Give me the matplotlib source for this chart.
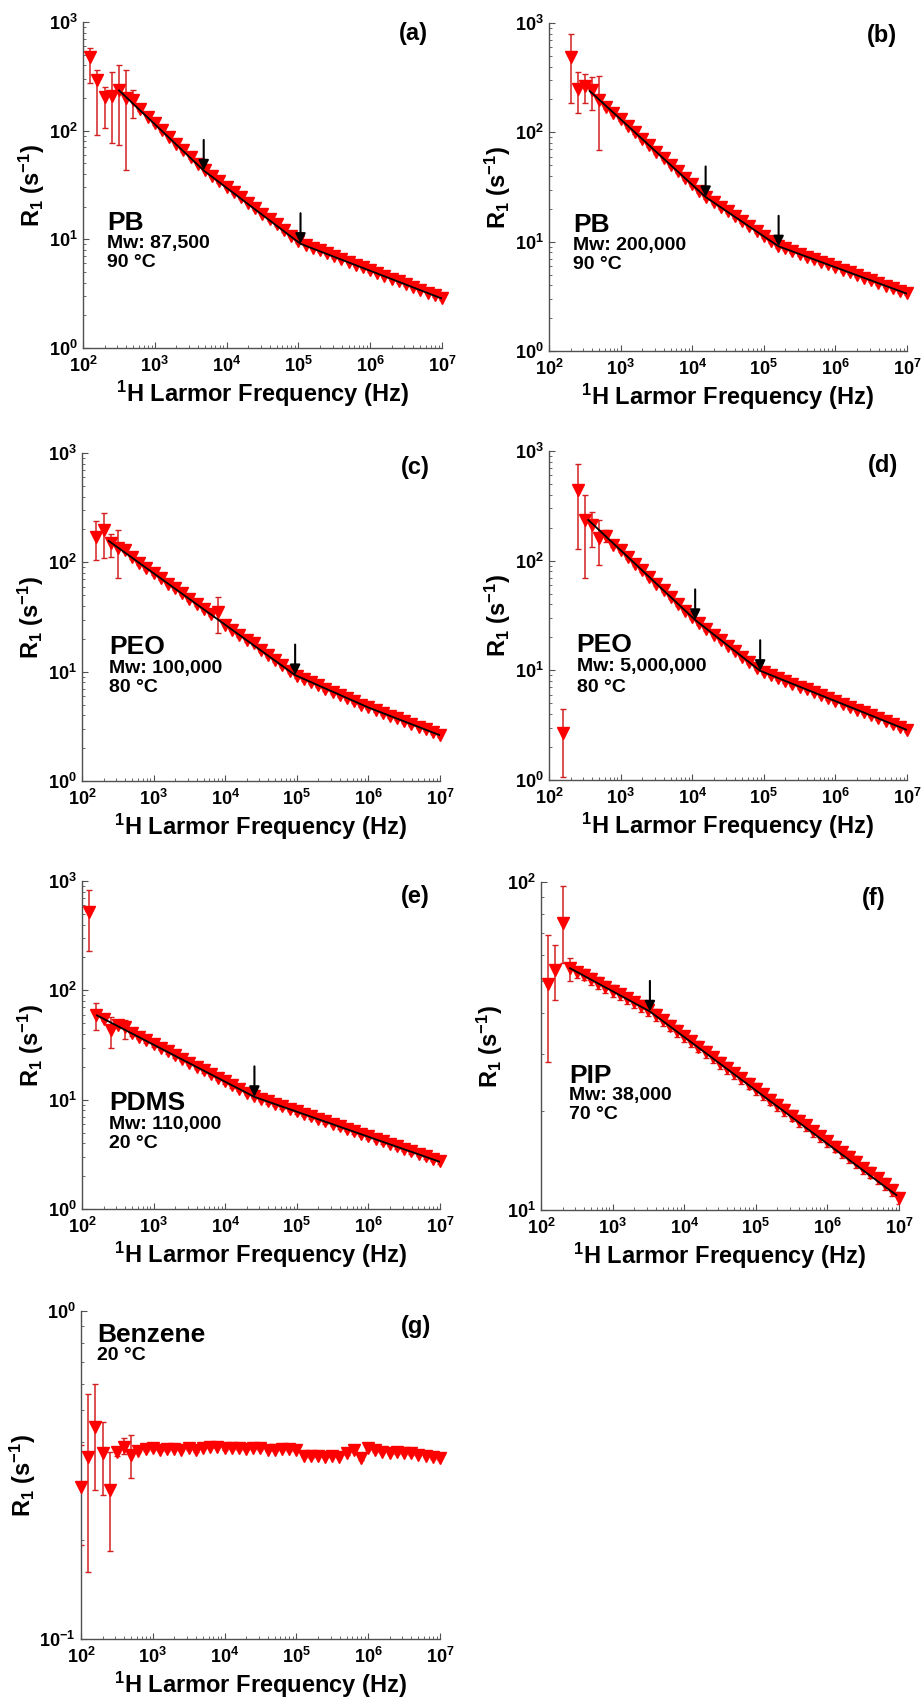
import numpy as np
import matplotlib
matplotlib.use('Agg')
import matplotlib.pyplot as plt
from matplotlib.ticker import NullFormatter

plt.rcParams['font.family'] = ['Liberation Sans', 'DejaVu Sans']
plt.rcParams['font.weight'] = 'bold'
plt.rcParams['mathtext.fontset'] = 'custom'
plt.rcParams['mathtext.rm'] = 'Liberation Sans:bold'
plt.rcParams['mathtext.bf'] = 'Liberation Sans:bold'
plt.rcParams['mathtext.it'] = 'Liberation Sans:bold:italic'

# common frequency grid (Hz), 10 points per decade
FREQ = [100, 126, 158, 200, 251, 316, 398, 501, 631, 794,
        1.0e3, 1.26e3, 1.58e3, 2.0e3, 2.51e3, 3.16e3, 3.98e3, 5.01e3, 6.31e3, 7.94e3,
        1.0e4, 1.26e4, 1.58e4, 2.0e4, 2.51e4, 3.16e4, 3.98e4, 5.01e4, 6.31e4, 7.94e4,
        1.0e5, 1.26e5, 1.58e5, 2.0e5, 2.51e5, 3.16e5, 3.98e5, 5.01e5, 6.31e5, 7.94e5,
        1.0e6, 1.26e6, 1.58e6, 2.0e6, 2.51e6, 3.16e6, 3.98e6, 5.01e6, 6.31e6, 7.94e6,
        1.0e7]

xtick_vals = [1e2, 1e3, 1e4, 1e5, 1e6, 1e7]
xtick_labels = [r'$10^{2}$', r'$10^{3}$', r'$10^{4}$', r'$10^{5}$', r'$10^{6}$', r'$10^{7}$']

# (a) PB 87,500
start_a = 1
r1_a = [477, 293, 206, 208, 237, 199, 192, 157, 134, 117, 101, 88, 76, 66, 57, 49.5, 43.5,
        38.3, 34.2, 30.5, 27.2, 24.3, 21.6, 19.3, 17.1, 15.3, 13.7, 12.1, 10.8, 9.6, 8.9,
        8.4, 7.9, 7.45, 7.0, 6.6, 6.25, 5.85, 5.55, 5.2, 4.9, 4.62, 4.36, 4.1, 3.87, 3.65,
        3.44, 3.24, 3.05, 2.88]
err_idx_a = [0, 1, 2, 3, 4, 5, 6]
err_lo_a = [202, 202, 101, 131, 163, 156, 61]
err_hi_a = [96, 68, 48, 141, 165, 162, 45]
fit_f_a = [317, 4800, 107000, 1e7]
fit_r_a = [235, 43, 9.1, 2.85]
arrow_f_a = [4800, 107000]
arrow_r_a = [43, 9.1]

# (b) PB 200,000
start_b = 3
r1_b = [489, 251, 263, 245, 196, 172, 150, 132, 115, 101, 87, 76, 66.5, 58, 50.5, 44, 38.5,
        33.5, 29.3, 25.6, 23.1, 20.9, 18.9, 17.0, 15.3, 13.8, 12.5, 11.3, 10.2, 9.2, 8.7,
        8.2, 7.75, 7.3, 6.95, 6.55, 6.2, 5.88, 5.55, 5.25, 4.97, 4.7, 4.45, 4.2, 3.97, 3.76,
        3.56, 3.36]
err_idx_b = [0, 1, 2, 3, 4]
err_lo_b = [304, 101, 78, 84, 127]
err_hi_b = [298, 106, 76, 76, 134]
fit_f_b = [370, 15400, 161000, 1e7]
fit_r_b = [239, 25.6, 9.06, 3.34]
arrow_f_b = [15400, 161000]
arrow_r_b = [25.6, 9.06]

# (c) PEO 100,000
start_c = 2
r1_c = [169, 199, 150, 135, 130, 111, 99, 89, 80, 72, 64, 58, 52, 46.5, 41.8, 37.5, 33.6,
        35.0, 27.0, 24.3, 21.8, 19.5, 18.2, 15.8, 14.1, 12.7, 11.4, 10.2, 9.2, 8.6, 8.05,
        7.5, 7.0, 6.55, 6.12, 5.72, 5.34, 5.0, 4.72, 4.45, 4.2, 3.96, 3.74, 3.53, 3.34,
        3.15, 2.97, 2.79, 2.63]
err_idx_c = [0, 1, 2, 3, 17]
err_lo_c = [63, 90, 37, 63, 12.5]
err_hi_c = [71, 83, 31, 64, 13]
fit_f_c = [236, 94800, 1e6, 1e7]
fit_r_c = [157, 9.3, 4.7, 2.62]
arrow_f_c = [94800]
arrow_r_c = [9.3]

# (d) PEO 5,000,000
start_d = 2
r1_d = [2.67, np.nan, 441, 235, 211, 162, 169, 140, 124, 108, 94, 82, 71, 61.5, 53.5, 46.5,
        40.4, 35.1, 30.5, 26.8, 23.9, 21.2, 18.8, 16.7, 14.9, 13.2, 11.8, 10.5, 9.6, 9.0,
        8.5, 8.0, 7.55, 7.1, 6.7, 6.3, 5.93, 5.58, 5.26, 4.95, 4.66, 4.39, 4.13, 3.89,
        3.67, 3.45, 3.25, 3.06, 2.88]
err_idx_d = [0, 2, 3, 4, 5, 6]
err_lo_d = [1.6, 313, 166, 77, 71, 20]
err_hi_d = [1.76, 314, 162, 69, 73, 20]
fit_f_d = [354, 11000, 89000, 1e7]
fit_r_d = [235, 28.8, 9.9, 2.86]
arrow_f_d = [11000, 89000]
arrow_r_d = [28.8, 9.9]

# (e) PDMS 110,000
start_e = 1
r1_e = [521, 59, 55, 43, 48, 46, 40.5, 37.5, 34.8, 32.2, 29.8, 27.6, 25.5, 23.6, 21.8, 20.1,
        18.6, 17.2, 15.9, 14.7, 13.6, 12.6, 11.6, 10.8, 10.2, 9.7, 9.2, 8.7, 8.25, 7.85,
        7.45, 7.05, 6.7, 6.35, 6.03, 5.72, 5.43, 5.15, 4.88, 4.63, 4.39, 4.17, 3.96, 3.76,
        3.57, 3.38, 3.2, 3.04, 2.88, 2.72]
err_idx_e = [0, 1, 3, 5]
err_lo_e = [292, 16, 13, 10]
err_hi_e = [301, 17, 14, 8]
fit_f_e = [162, 25600, 1e7]
fit_r_e = [59, 10.6, 2.7]
arrow_f_e = [25600]
arrow_r_e = [10.6]

# (f) PIP 38,000
start_f = 1
r1_f = [49, 53.8, 75, 54.6, 53.0, 52.2, 50.6, 49.2, 47.9, 46.6, 45.4, 44.2, 43.0, 41.9,
        40.7, 39.3, 37.9, 36.5, 35.2, 33.9, 32.7, 31.5, 30.3, 29.2, 28.1, 27.1, 26.1, 25.2,
        24.3, 23.4, 22.5, 21.7, 20.9, 20.2, 19.4, 18.7, 18.1, 17.4, 16.8, 16.2, 15.6, 15.0,
        14.5, 14.0, 13.4, 13.0, 12.5, 12.0, 11.5, 10.9]
err_idx_f = [0, 1, 2, 3]
err_lo_f = [20.8, 10, 18.4, 4.8]
err_hi_f = [20, 10.6, 22, 4]
fit_f_f = [254, 3320, 9.2e6]
fit_r_f = [54.6, 40.3, 11.1]
arrow_f_f = [3320]
arrow_r_f = [40.3]

# (g) Benzene
start_g = 0
r1_g = [0.291, 0.36, 0.442, 0.37, 0.285, 0.372, 0.386, 0.364, 0.375, 0.379, 0.381, 0.377,
        0.379, 0.380, 0.378, 0.381, 0.376, 0.383, 0.385, 0.386, 0.381, 0.383, 0.382, 0.380,
        0.383, 0.381, 0.377, 0.378, 0.380, 0.379, 0.378, 0.362, 0.361, 0.362, 0.360, 0.362,
        0.360, 0.368, 0.377, 0.356, 0.382, 0.376, 0.372, 0.370, 0.371, 0.369, 0.368, 0.364,
        0.362, 0.358, 0.356]
err_idx_g = [0, 1, 2, 3, 4, 5, 6, 7]
err_lo_g = [0.097, 0.20, 0.157, 0.095, 0.1, 0.01, 0.02, 0.054]
err_hi_g = [0.099, 0.20, 0.156, 0.09, 0.087, 0.01, 0.024, 0.054]


fig = plt.figure(figsize=(9.21, 17.01), dpi=100)

W, H = 921, 1701
def make_ax(left, top, right, bottom):
    return fig.add_axes([left / W, 1 - bottom / H, (right - left) / W, (bottom - top) / H])


def draw_panel(ax, start, r1, e_idx, e_lo, e_hi, rel, fit_f, fit_r, arr_f, arr_r,
               ylim, yticks, yticklabels, letter, lines, text_xy):
    f = np.array(FREQ[start:start + len(r1)])
    r = np.array(r1, dtype=float)
    lo = r * rel
    hi = r * rel
    for i, a, b in zip(e_idx, e_lo, e_hi):
        lo[i] = a
        hi[i] = b
    ax.errorbar(f, r, yerr=[lo, hi], fmt='none', ecolor='#d42020', elinewidth=1.1,
                capsize=2, capthick=1, zorder=2)
    ax.plot(f, r, 'v', color='red', ms=9, mec='red', zorder=3, clip_on=False)
    if fit_f is not None:
        ax.plot(fit_f, fit_r, '-', color='black', lw=1.3, zorder=4)
    for af, ar in zip(arr_f, arr_r):
        ax.annotate('', xy=(af, ar), xytext=(0, 22), textcoords='offset points',
                    arrowprops=dict(arrowstyle='-|>', color='black', lw=1.5,
                                    mutation_scale=15, shrinkA=0, shrinkB=0),
                    zorder=5)
    ax.set_xscale('log')
    ax.set_yscale('log')
    ax.set_xlim(1e2, 1e7)
    ax.set_ylim(*ylim)
    ax.set_xticks(xtick_vals)
    ax.set_xticklabels(xtick_labels)
    ax.set_yticks(yticks)
    ax.set_yticklabels(yticklabels)
    ax.xaxis.set_minor_formatter(NullFormatter())
    ax.yaxis.set_minor_formatter(NullFormatter())
    for s in ['top', 'right']:
        ax.spines[s].set_visible(False)
    for s in ['left', 'bottom']:
        ax.spines[s].set_color('#505050')
        ax.spines[s].set_linewidth(1.0)
    ax.tick_params(which='both', direction='in', color='#505050', labelsize=13)
    ax.tick_params(which='major', length=4, width=0.8)
    ax.tick_params(which='minor', length=2.5, width=0.6)
    ax.tick_params(axis='x', pad=6)
    ax.tick_params(axis='y', pad=4)
    ax.set_xlabel(r'$^{1}$H Larmor Frequency (Hz)', fontsize=17, fontweight='bold', labelpad=2)
    ax.set_ylabel(r'R$_{1}$ (s$^{-1}$)', fontsize=17, fontweight='bold', labelpad=1)
    ax.text(letter[1], letter[2], letter[0], transform=ax.transAxes, ha='center',
            va='center', fontsize=17, fontweight='bold')
    tx, ty = text_xy
    ax.text(tx, ty[0], lines[0], transform=ax.transAxes, ha='left', va='center',
            fontsize=19, fontweight='bold')
    for ln, yy in zip(lines[1:], ty[1:]):
        ax.text(tx, yy, ln, transform=ax.transAxes, ha='left', va='center',
                fontsize=14, fontweight='bold')


dec3 = [1e0, 1e1, 1e2, 1e3]
dec3_lab = [r'$10^{0}$', r'$10^{1}$', r'$10^{2}$', r'$10^{3}$']

ax_a = make_ax(83, 22, 442, 348)
draw_panel(ax_a, start_a, r1_a, err_idx_a, err_lo_a, err_hi_a, 0.03, fit_f_a, fit_r_a,
           arrow_f_a, arrow_r_a, (1, 1000), dec3, dec3_lab, ('(a)', 0.92, 0.966),
           ['PB', 'Mw: 87,500', '90 °C'], (0.067, [0.383, 0.322, 0.263]))

ax_b = make_ax(549, 23, 907, 351)
draw_panel(ax_b, start_b, r1_b, err_idx_b, err_lo_b, err_hi_b, 0.04, fit_f_b, fit_r_b,
           arrow_f_b, arrow_r_b, (1, 1000), dec3, dec3_lab, ('(b)', 0.929, 0.963),
           ['PB', 'Mw: 200,000', '90 °C'], (0.067, [0.383, 0.322, 0.263]))

ax_c = make_ax(82, 453, 440, 781)
draw_panel(ax_c, start_c, r1_c, err_idx_c, err_lo_c, err_hi_c, 0.04, fit_f_c, fit_r_c,
           arrow_f_c, arrow_r_c, (1, 1000), dec3, dec3_lab, ('(c)', 0.93, 0.955),
           ['PEO', 'Mw: 100,000', '80 °C'], (0.075, [0.41, 0.343, 0.284]))

ax_d = make_ax(549, 451, 907, 780)
draw_panel(ax_d, start_d, r1_d, err_idx_d, err_lo_d, err_hi_d, 0.04, fit_f_d, fit_r_d,
           arrow_f_d, arrow_r_d, (1, 1000), dec3, dec3_lab, ('(d)', 0.934, 0.955),
           ['PEO', 'Mw: 5,000,000', '80 °C'], (0.077, [0.41, 0.344, 0.28]))

ax_e = make_ax(82, 881, 440, 1209)
draw_panel(ax_e, start_e, r1_e, err_idx_e, err_lo_e, err_hi_e, 0.05, fit_f_e, fit_r_e,
           arrow_f_e, arrow_r_e, (1, 1000), dec3, dec3_lab, ('(e)', 0.93, 0.954),
           ['PDMS', 'Mw: 110,000', '20 °C'], (0.075, [0.324, 0.259, 0.20]))

ax_f = make_ax(541, 882, 899, 1210)
draw_panel(ax_f, start_f, r1_f, err_idx_f, err_lo_f, err_hi_f, 0.04, fit_f_f, fit_r_f,
           arrow_f_f, arrow_r_f, (10, 100), [1e1, 1e2], [r'$10^{1}$', r'$10^{2}$'],
           ('(f)', 0.928, 0.95), ['PIP', 'Mw: 38,000', '70 °C'],
           (0.079, [0.409, 0.35, 0.29]))

ax_g = make_ax(81, 1311, 440, 1639)
draw_panel(ax_g, start_g, r1_g, err_idx_g, err_lo_g, err_hi_g, 0.01, None, None,
           [], [], (0.1, 1), [1e-1, 1e0], [r'$10^{-1}$', r'$10^{0}$'],
           ('(g)', 0.933, 0.954), ['Benzene', '20 °C'], (0.045, [0.927, 0.863]))

fig.savefig('out.png', dpi=100)
